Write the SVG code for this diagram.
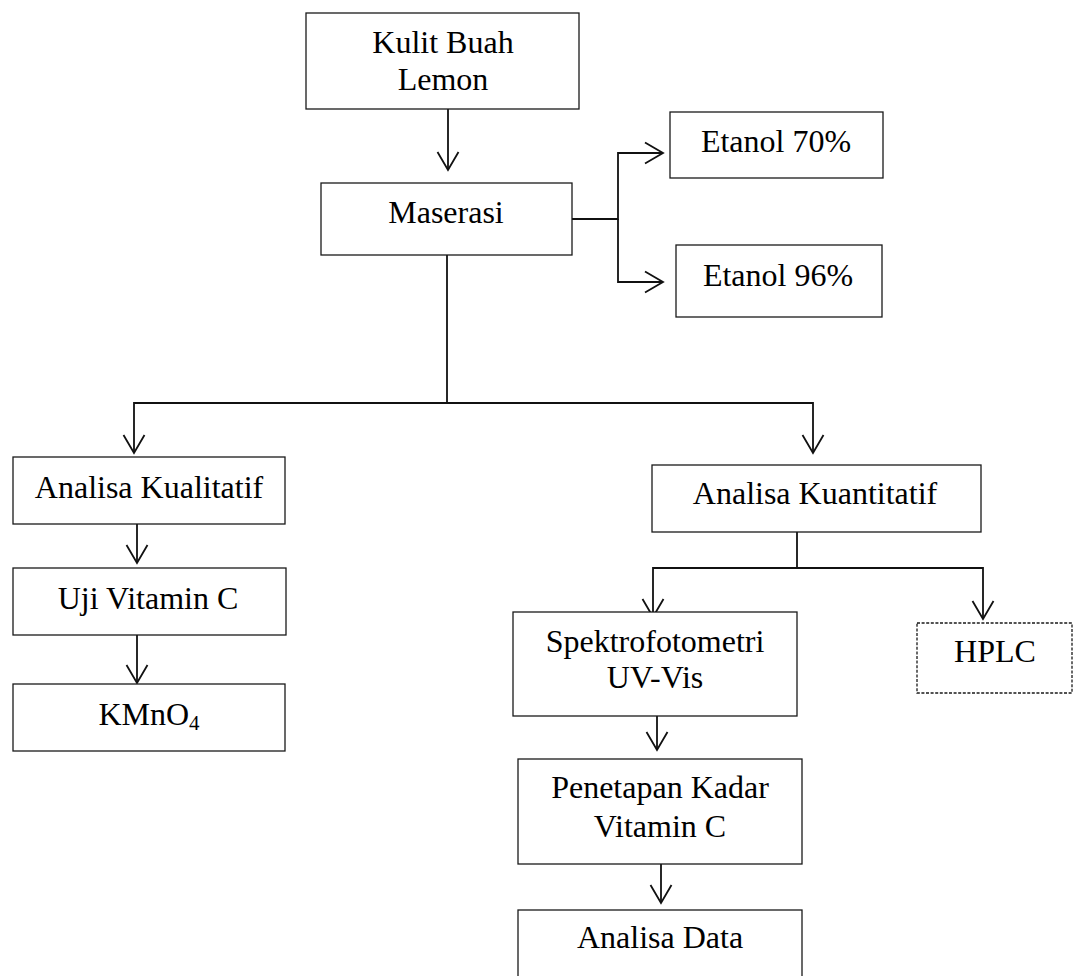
<svg xmlns="http://www.w3.org/2000/svg" width="1075" height="976" viewBox="0 0 1075 976">
<style>
.box{fill:#fff;stroke:#1a1a1a;stroke-width:1.3}
.dash{fill:#fff;stroke:#1a1a1a;stroke-width:1.3;stroke-dasharray:3 1.6}
.t{font-family:"Liberation Serif","Times New Roman",serif;font-size:32px;fill:#000;text-anchor:middle}
.c{fill:none;stroke:#111;stroke-width:1.8}
.a{marker-end:url(#arr)}
</style>
<defs>
<marker id="arr" markerUnits="userSpaceOnUse" markerWidth="24" markerHeight="26" refX="20" refY="12" orient="auto" overflow="visible">
<path d="M2,1.5 L20,12 L2,22.5" fill="none" stroke="#111" stroke-width="1.8"/>
</marker>
</defs>
<g id="connectors">
<path class="c a" d="M448,109 V170"/>
<path class="c a" d="M572,219 H618 V153 H663"/>
<path class="c a" d="M618,219 V282 H663"/>
<path class="c" d="M447,255 V403"/>
<path class="c a" d="M447,403 H134 V453"/>
<path class="c a" d="M447,403 H813 V453"/>
<path class="c a" d="M137,515 V563"/>
<path class="c a" d="M137,635 V683"/>
<path class="c" d="M797,532 V568"/>
<path class="c a" d="M797,568 H653 V617"/>
<path class="c a" d="M797,568 H983 V619"/>
<path class="c a" d="M657,716 V750"/>
<path class="c a" d="M661,864 V903"/>
</g>
<g id="kulit"><rect class="box" x="306" y="13" width="273" height="96"/><text class="t" x="443" y="53">Kulit Buah</text><text class="t" x="443" y="90">Lemon</text></g>
<g id="maserasi"><rect class="box" x="321" y="183" width="251" height="72"/><text class="t" x="446" y="223">Maserasi</text></g>
<g id="etanol70"><rect class="box" x="670" y="112" width="213" height="66"/><text class="t" x="776" y="152">Etanol 70%</text></g>
<g id="etanol96"><rect class="box" x="676" y="245" width="206" height="72"/><text class="t" x="778" y="286">Etanol 96%</text></g>
<g id="kualitatif"><rect class="box" x="13" y="457" width="272" height="67"/><text class="t" x="149" y="498">Analisa Kualitatif</text></g>
<g id="ujivitc"><rect class="box" x="13" y="568" width="273" height="67"/><text class="t" x="148" y="609">Uji Vitamin C</text></g>
<g id="kmno4"><rect class="box" x="13" y="684" width="272" height="67"/><text class="t" x="149" y="725">KMnO<tspan font-size="21" dy="5">4</tspan></text></g>
<g id="kuantitatif"><rect class="box" x="652" y="465" width="329" height="67"/><text class="t" x="815" y="504">Analisa Kuantitatif</text></g>
<g id="spektro"><rect class="box" x="513" y="612" width="284" height="104"/><text class="t" x="655" y="652">Spektrofotometri</text><text class="t" x="655" y="688">UV-Vis</text></g>
<g id="hplc"><rect class="dash" x="917" y="623" width="155" height="70"/><text class="t" x="995" y="662">HPLC</text></g>
<g id="penetapan"><rect class="box" x="518" y="759" width="284" height="105"/><text class="t" x="660" y="798">Penetapan Kadar</text><text class="t" x="660" y="837">Vitamin C</text></g>
<g id="analisadata"><rect class="box" x="518" y="910" width="284" height="80"/><text class="t" x="660" y="948">Analisa Data</text></g>
</svg>
